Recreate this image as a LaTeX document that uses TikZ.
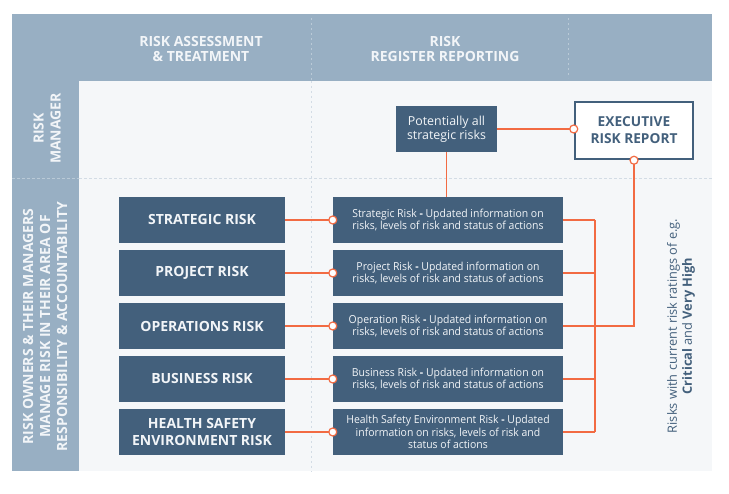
\documentclass[tikz,border=0pt]{standalone}
\usepackage{fontspec}
\setmainfont{Open Sans}
\newfontfamily\condfont[FakeStretch=0.95]{Open Sans}
\definecolor{band}{HTML}{98AFC3}
\definecolor{panel}{HTML}{F5F7F9}
\definecolor{navy}{HTML}{43607C}
\definecolor{orng}{HTML}{F26B43}
\definecolor{dashbody}{HTML}{D3DCE5}
\definecolor{dashhead}{HTML}{BACAD7}
\definecolor{softwhite}{HTML}{F2F5F8}
\tikzset{
  titlebox/.style={fill=navy, minimum width=166pt, minimum height=46pt, inner sep=0pt, text=softwhite, align=center,
    font=\bfseries\fontsize{14}{16.5}\selectfont},
  infobox/.style={fill=navy, minimum width=230pt, minimum height=46pt, inner sep=0pt, text=softwhite, align=center,
    font=\condfont\fontsize{11}{12.7}\selectfont},
  hdrtext/.style={text=softwhite, align=center, font=\bfseries\fontsize{14}{15.5}\selectfont},
  sidetext/.style={rotate=90, text=softwhite, align=center, font=\bfseries\fontsize{14}{17}\selectfont},
  oline/.style={draw=orng, line width=1.2pt},
  odot/.style={circle, draw=orng, fill=white, line width=1.2pt, minimum size=8pt, inner sep=0pt},
  bodydash/.style={draw=dashbody, line width=0.8pt, dash pattern=on 2.5pt off 2.5pt},
  headdash/.style={draw=dashhead, line width=0.8pt, dash pattern=on 2.5pt off 2.5pt},
}
\begin{document}
\begin{tikzpicture}[x=1pt,y=-1pt]
\useasboundingbox (0,0) rectangle (729,494);
% background panels
\fill[panel] (12,14) rectangle (712,471);
\fill[band] (12,14) rectangle (712,81);
\fill[band] (12,81) rectangle (79,471);
% dashed grid lines
\draw[headdash] (311,18) -- (311,81);
\draw[bodydash] (311,81) -- (311,472);
\draw[headdash] (568,18) -- (568,78);
\draw[headdash] (12,178) -- (79,178);
\draw[bodydash] (79,178) -- (712,178);
% header texts
\node[hdrtext] (h1) at (201,49) {RISK ASSESSMENT\\\& TREATMENT};
\node[hdrtext] (h2) at (445,49) {RISK\\REGISTER REPORTING};
% side texts
\node[sidetext] (rm) at (47,128.5) {RISK\\MANAGER};
\node[sidetext] (ro) at (45,326.5) {RISK OWNERS \& THEIR MANAGERS\\MANAGE RISK IN THEIR AREA OF\\RESPONSIBILITY \& ACCOUNTABILITY};
% left boxes
\node[titlebox] (l1) at (202,220) {STRATEGIC RISK};
\node[titlebox] (l2) at (202,273) {PROJECT RISK};
\node[titlebox] (l3) at (202,326) {OPERATIONS RISK};
\node[titlebox] (l4) at (202,379) {BUSINESS RISK};
\node[titlebox] (l5) at (202,432) {HEALTH SAFETY\\ENVIRONMENT RISK};
% right boxes
\node[infobox] (r1) at (448,220) {Strategic Risk \textbf{-} Updated information on\\risks, levels of risk and status of actions};
\node[infobox] (r2) at (448,273) {Project Risk \textbf{-} Updated information on\\risks, levels of risk and status of actions};
\node[infobox] (r3) at (448,326) {Operation Risk \textbf{-} Updated information on\\risks, levels of risk and status of actions};
\node[infobox] (r4) at (448,379) {Business Risk \textbf{-} Updated information on\\risks, levels of risk and status of actions};
\node[infobox] (r5) at (448,432) {Health Safety Environment Risk \textbf{-} Updated\\information on risks, levels of risk and\\status of actions};
% risk manager row
\node[fill=navy, minimum width=101pt, minimum height=46pt, inner sep=0pt, text=softwhite, align=center,
  font=\fontsize{12.4}{14}\selectfont] (pot) at (446.5,129) {Potentially all\\strategic risks};
\node[draw=navy, line width=2.5pt, fill=white, minimum width=118pt, minimum height=57pt, inner sep=0pt, text=navy, align=center,
  font=\bfseries\fontsize{13.7}{17}\selectfont] (exec) at (634,130.5) {EXECUTIVE\\RISK REPORT};
% side note
\node[rotate=90, text=navy, align=center, font=\fontsize{12.8}{15}\selectfont] (note) at (681,326)
  {Risks with current risk ratings of e.g.\\\textbf{Critical} and \textbf{Very High}};
% connectors
\coordinate (vline) at (595,0);
\foreach \i in {1,...,5} {
  \draw[oline] (l\i.east) -- (r\i.west);
  \draw[oline] (r\i.east) -- (r\i.east -| vline);
}
\draw[oline] (r1.east -| vline) -- (r5.east -| vline);
\draw[oline] (r3.east) -| (exec.south);
\draw[oline] (pot.east) -- (pot.east -| exec.west);
\draw[oline] (pot.south) -- (pot.south |- r1.north);
\foreach \i in {1,...,5} {
  \node[odot] at (r\i.west) {};
}
\node[odot] at (pot.east -| exec.west) {};
\node[odot] at (exec.south) {};
\end{tikzpicture}
\end{document}
